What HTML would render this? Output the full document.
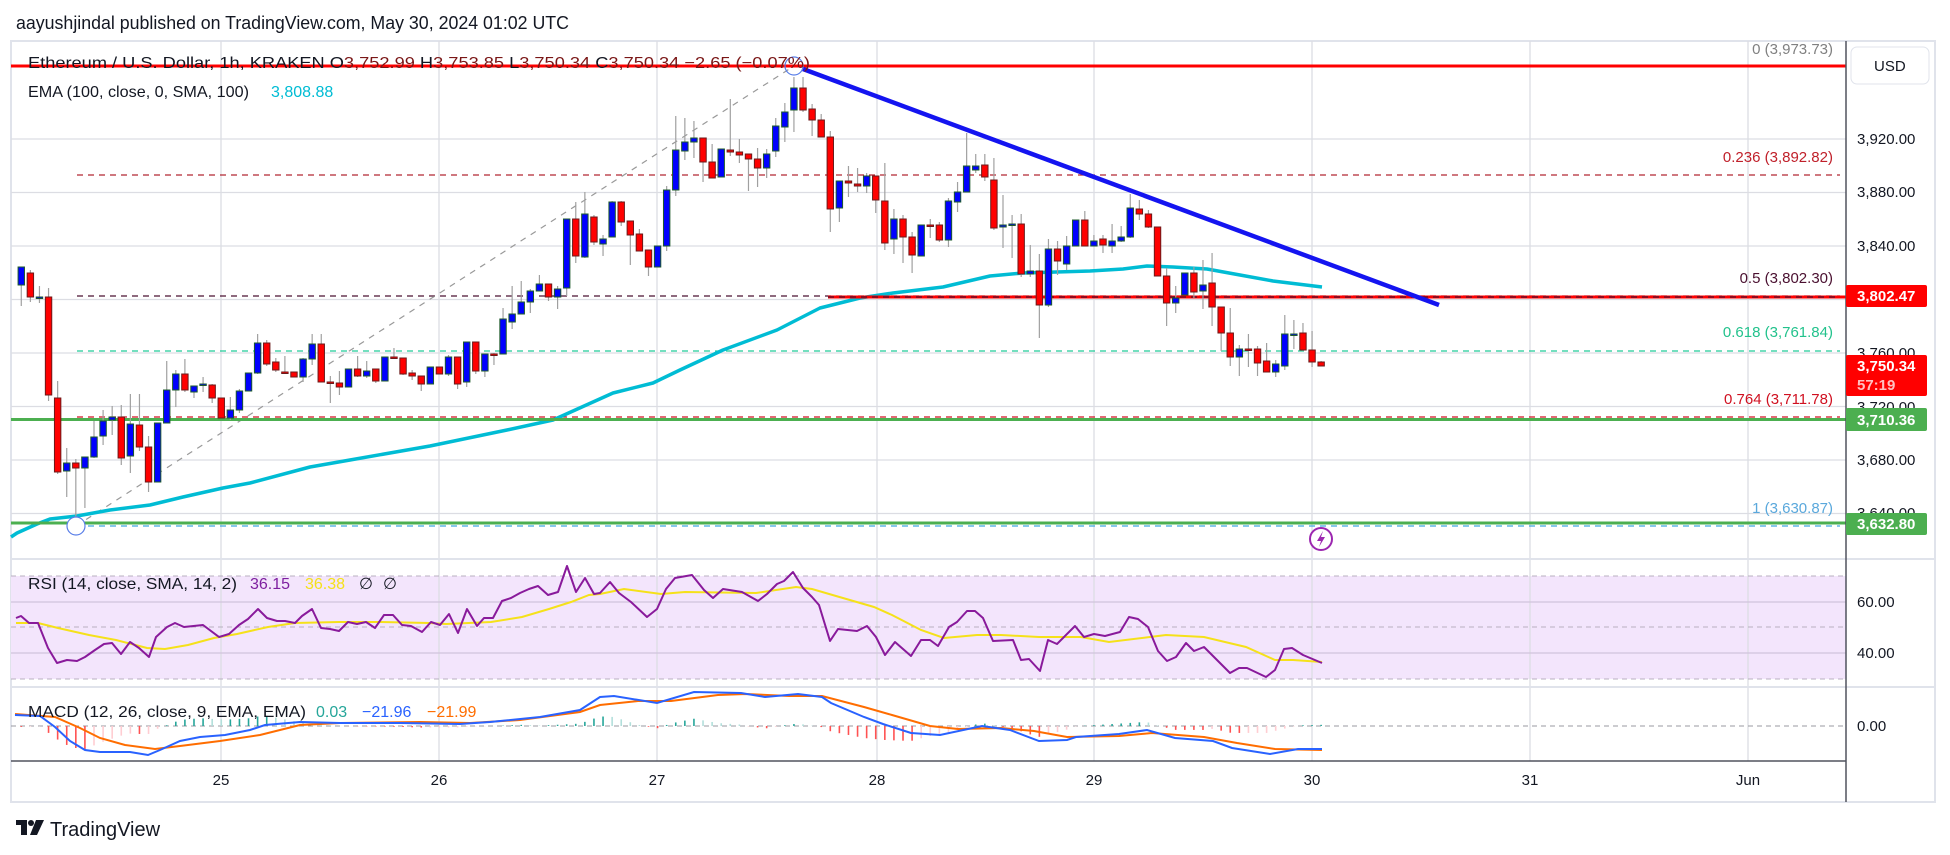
<!DOCTYPE html>
<html><head><meta charset="utf-8">
<style>
html,body{margin:0;padding:0;background:#fff;}
svg{display:block;font-family:"Liberation Sans",sans-serif;}
</style></head>
<body>
<svg id="s" width="1950" height="855" viewBox="0 0 1950 855" xmlns="http://www.w3.org/2000/svg">
<rect x="0" y="0" width="1950" height="855" fill="#fff"/>
<text x="16" y="29" font-size="18" fill="#131722" textLength="553" lengthAdjust="spacingAndGlyphs">aayushjindal published on TradingView.com, May 30, 2024 01:02 UTC</text>
<rect x="11" y="41" width="1924" height="761" fill="#fff" stroke="#e0e3eb" stroke-width="2"/>
<!-- RSI band -->
<rect x="11" y="576" width="1835" height="103" fill="#f3e5fc"/>
<g id="grid"></g>
<g id="main"></g>
<!-- pane separators -->
<line x1="11" y1="559" x2="1935" y2="559" stroke="#e0e3eb" stroke-width="2"/>
<line x1="11" y1="687" x2="1935" y2="687" stroke="#e0e3eb" stroke-width="2"/>
<line x1="11" y1="761" x2="1846" y2="761" stroke="#50535e" stroke-width="1.5"/>
<line x1="1846" y1="41" x2="1846" y2="802" stroke="#50535e" stroke-width="1.5"/>
<!-- USD box -->
<rect x="1851" y="47" width="78" height="37" rx="6" fill="#fff" stroke="#e0e3eb"/>
<text x="1874" y="71" font-size="15" fill="#131722">USD</text>
<!-- price axis labels -->
<g font-size="15" fill="#131722">
<text x="1857" y="144">3,920.00</text>
<text x="1857" y="197">3,880.00</text>
<text x="1857" y="251">3,840.00</text>
<text x="1857" y="358">3,760.00</text>
<text x="1857" y="412">3,720.00</text>
<text x="1857" y="465">3,680.00</text>
<text x="1857" y="518">3,640.00</text>
<text x="1857" y="607">60.00</text>
<text x="1857" y="658">40.00</text>
<text x="1857" y="731">0.00</text>
</g>
<rect x="1846" y="285" width="81" height="22" rx="2" fill="#ff0000"/>
<text x="1857" y="301" font-size="15" fill="#fff" font-weight="bold">3,802.47</text>
<rect x="1846" y="355" width="81" height="41" rx="2" fill="#ff0000"/>
<text x="1857" y="371" font-size="15" fill="#fff" font-weight="bold">3,750.34</text>
<text x="1857" y="390" font-size="15" fill="#ffc0c0" font-weight="bold">57:19</text>
<rect x="1846" y="408" width="81" height="23" rx="2" fill="#4caf50"/>
<text x="1857" y="425" font-size="15" fill="#fff" font-weight="bold">3,710.36</text>
<rect x="1846" y="513" width="81" height="22" rx="2" fill="#4caf50"/>
<text x="1857" y="529" font-size="15" fill="#fff" font-weight="bold">3,632.80</text>
<!-- time axis -->
<g font-size="15" fill="#131722" text-anchor="middle">
<text x="221" y="785">25</text><text x="439" y="785">26</text><text x="657" y="785">27</text>
<text x="877" y="785">28</text><text x="1094" y="785">29</text><text x="1312" y="785">30</text>
<text x="1530" y="785">31</text><text x="1748" y="785">Jun</text>
</g>
<!-- fib labels -->
<g font-size="15" text-anchor="end">
<text x="1833" y="54" fill="#808080">0 (3,973.73)</text>
<text x="1833" y="162" fill="#c0202a">0.236 (3,892.82)</text>
<text x="1833" y="283" fill="#4a1030">0.5 (3,802.30)</text>
<text x="1833" y="337" fill="#22c28c">0.618 (3,761.84)</text>
<text x="1833" y="404" fill="#d01020">0.764 (3,711.78)</text>
<text x="1833" y="513" fill="#5aa8dc">1 (3,630.87)</text>
</g>
<!-- legends -->
<text x="28" y="68" font-size="16" textLength="782" lengthAdjust="spacingAndGlyphs"><tspan fill="#131722">Ethereum / U.S. Dollar, 1h, KRAKEN </tspan><tspan fill="#131722">O</tspan><tspan fill="#7a1616">3,752.99 </tspan><tspan fill="#131722">H</tspan><tspan fill="#7a1616">3,753.85 </tspan><tspan fill="#131722">L</tspan><tspan fill="#7a1616">3,750.34 </tspan><tspan fill="#131722">C</tspan><tspan fill="#7a1616">3,750.34 −2.65 (−0.07%)</tspan></text>
<text x="28" y="97" font-size="16" fill="#131722" textLength="221" lengthAdjust="spacingAndGlyphs">EMA (100, close, 0, SMA, 100)</text>
<text x="271" y="97" font-size="16" fill="#00bcd4">3,808.88</text>
<text x="28" y="589" font-size="16" fill="#131722" textLength="209" lengthAdjust="spacingAndGlyphs">RSI (14, close, SMA, 14, 2)</text>
<text x="250" y="589" font-size="16" fill="#7e1fa0">36.15</text>
<text x="305" y="589" font-size="16" fill="#f5e11a">36.38</text>
<text x="359" y="589" font-size="16" fill="#131722">∅</text>
<text x="383" y="589" font-size="16" fill="#131722">∅</text>
<text x="28" y="717" font-size="16" fill="#131722" textLength="278" lengthAdjust="spacingAndGlyphs">MACD (12, 26, close, 9, EMA, EMA)</text>
<text x="316" y="717" font-size="16" fill="#26a69a">0.03</text>
<text x="362" y="717" font-size="16" fill="#2962ff">−21.96</text>
<text x="427" y="717" font-size="16" fill="#ff6d00">−21.99</text>
<!-- lightning -->
<circle cx="1321" cy="539" r="11" fill="#fff" stroke="#9c27b0" stroke-width="2"/>
<path d="M1323 531 L1317 541 L1321 541 L1319 547 L1325 537 L1321 537 Z" fill="#9c27b0"/>
<!-- logo -->
<g fill="#131722"><rect x="16" y="820" width="11" height="5"/><rect x="21" y="820" width="6" height="15"/><circle cx="31" cy="823" r="3"/><path d="M36 820 L44 820 L37 835 L30 835 Z"/></g>
<text x="50" y="836" font-size="20" fill="#131722">TradingView</text>
</svg>
<script>
const NS="http://www.w3.org/2000/svg";
const grid=document.getElementById('grid'), main=document.getElementById('main');
function el(p,t,a){const e=document.createElementNS(NS,t);for(const k in a)e.setAttribute(k,a[k]);p.appendChild(e);return e;}
// grid
[221,439,657,877,1094,1312,1530,1748].forEach(x=>el(grid,'line',{x1:x,y1:41,x2:x,y2:761,stroke:'#dcdde3','stroke-width':1.3}));
[139,192.5,246,299.5,353,406.5,460,513.5].forEach(y=>el(grid,'line',{x1:11,y1:y,x2:1846,y2:y,stroke:'#dcdde3','stroke-width':1.3}));
[602,653].forEach(y=>el(grid,'line',{x1:11,y1:y,x2:1846,y2:y,stroke:'#d0c3dc','stroke-width':1.3}));
[576,627,679].forEach(y=>el(grid,'line',{x1:11,y1:y,x2:1846,y2:y,stroke:'#b8b0c0','stroke-width':1,'stroke-dasharray':'5 4'}));
el(grid,'line',{x1:11,y1:726,x2:1846,y2:726,stroke:'#9a9aa0','stroke-width':1,'stroke-dasharray':'5 4'});
const g=main;
// fib dashed lines
el(g,'line',{x1:77,y1:66,x2:1840,y2:66,stroke:'#999','stroke-width':1,'stroke-dasharray':'6 4'});
el(g,'line',{x1:77,y1:175,x2:1840,y2:175,stroke:'#b22833','stroke-width':1.3,'stroke-dasharray':'6 5'});
el(g,'line',{x1:77,y1:296,x2:1840,y2:296,stroke:'#4a1030','stroke-width':1.3,'stroke-dasharray':'6 5'});
el(g,'line',{x1:77,y1:351,x2:1840,y2:351,stroke:'#22cc99','stroke-width':1.3,'stroke-dasharray':'6 5'});
el(g,'line',{x1:77,y1:417,x2:1840,y2:417,stroke:'#d01020','stroke-width':1.3,'stroke-dasharray':'6 5'});
el(g,'line',{x1:77,y1:526,x2:1840,y2:526,stroke:'#40a8e0','stroke-width':1.3,'stroke-dasharray':'6 5'});
el(g,'line',{x1:76,y1:526,x2:794,y2:66,stroke:'#999','stroke-width':1.2,'stroke-dasharray':'6 6'});
// EMA
const ema=[[11,537],[17,533],[37,524],[50,519],[77,516],[110,510],[150,505],[183,497],[223,488],[250,483],[310,467],[350,460],[430,446],[507,430],[553,420],[613,393],[653,383],[680,370],[723,350],[777,330],[820,308],[860,298],[893,293],[943,287],[990,276],[1023,273],[1090,271],[1123,269],[1147,266],[1173,267],[1207,269],[1240,275],[1273,281],[1322,287]];
el(g,'polyline',{points:ema.map(p=>p.join(',')).join(' '),fill:'none',stroke:'#00bcd4','stroke-width':3.5,'stroke-linejoin':'round'});
// horizontal lines
el(g,'line',{x1:11,y1:66,x2:1846,y2:66,stroke:'#ff0000','stroke-width':3});
el(g,'line',{x1:828,y1:297,x2:1846,y2:297,stroke:'#ff0000','stroke-width':3});
el(g,'line',{x1:828,y1:297,x2:1840,y2:297,stroke:'#4a1030','stroke-width':1.3,'stroke-dasharray':'6 5'});
el(g,'line',{x1:11,y1:419.5,x2:1846,y2:419.5,stroke:'#4caf50','stroke-width':3});
el(g,'line',{x1:11,y1:523,x2:1846,y2:523,stroke:'#4caf50','stroke-width':3});
// candles
const C=[[2,1,267,285,267,306],[3,0,273,297,270,302],[4,1,297,298,286,303],[5,0,297,395,288,401],[6,0,398,472,381,474],[7,1,463,471,448,497],[8,0,463,468,459,517],[9,1,457,468,457,508],[10,1,437,457,421,458],[11,1,421,436,410,445],[12,1,417,420,406,435],[13,0,417,458,405,465],[14,1,424,456,394,473],[15,0,425,447,394,451],[16,0,447,482,436,492],[17,1,423,482,423,482],[18,1,390,423,361,423],[19,1,374,390,370,407],[20,0,374,390,359,392],[21,1,386,392,386,398],[22,1,384,385,377,392],[23,0,385,398,384,403],[24,0,398,418,398,418],[25,1,410,418,397,420],[26,1,391,410,389,413],[27,1,373,391,373,391],[28,1,343,373,334,374],[29,0,343,364,340,366],[30,0,362,370,358,372],[31,0,372,373,356,373],[32,0,372,377,372,377],[33,1,359,377,358,382],[34,1,344,359,334,365],[35,0,344,382,334,382],[36,0,382,383,376,403],[37,0,383,387,371,395],[38,1,369,387,369,387],[39,0,369,376,356,377],[40,1,371,376,361,378],[41,0,369,381,369,383],[42,1,357,381,357,381],[43,0,357,358,348,358],[44,0,358,374,358,375],[45,0,373,376,370,380],[46,0,376,384,376,391],[47,1,367,384,367,384],[48,0,367,374,367,374],[49,1,357,374,355,376],[50,0,357,384,357,389],[51,1,342,382,342,387],[52,0,342,371,342,374],[53,1,354,371,354,377],[54,0,354,355,353,365],[55,1,319,354,308,354],[56,1,314,322,286,329],[57,1,302,314,281,314],[58,1,291,302,289,313],[59,1,284,291,275,291],[60,0,284,297,284,301],[61,1,289,297,286,309],[62,1,219,288,219,296],[63,0,219,256,202,263],[64,1,214,257,192,258],[65,0,217,242,215,245],[66,1,239,244,235,256],[67,1,202,237,201,237],[68,0,202,222,201,226],[69,0,221,235,221,265],[70,0,234,251,229,251],[71,0,250,267,250,276],[72,1,246,267,246,267],[73,1,190,246,186,251],[74,1,150,190,116,196],[75,1,142,151,118,160],[76,1,138,142,121,158],[77,0,138,162,138,182],[78,0,162,178,144,178],[79,1,149,177,149,177],[80,0,150,152,99,156],[81,0,152,155,139,163],[82,0,154,159,154,191],[83,0,159,168,148,187],[84,1,154,168,149,178],[85,1,126,151,118,157],[86,1,112,127,103,142],[87,1,88,110,77,132],[88,0,88,110,77,112],[89,0,109,120,104,136],[90,0,120,137,114,137],[91,0,137,209,131,232],[92,1,181,208,181,222],[93,0,181,183,166,197],[94,0,184,186,168,192],[95,1,176,186,173,193],[96,0,176,200,176,213],[97,0,201,243,163,250],[98,1,219,239,209,254],[99,0,219,237,215,263],[100,0,237,255,232,273],[101,1,225,256,225,256],[102,0,225,226,219,238],[103,0,225,240,222,242],[104,1,201,240,198,247],[105,1,192,202,182,212],[106,1,166,192,133,192],[107,1,166,170,154,173],[108,0,165,177,154,181],[109,0,180,228,158,230],[110,1,225,227,195,248],[111,1,224,225,215,258],[112,0,224,274,214,277],[113,1,271,274,245,277],[114,0,271,305,254,338],[115,1,249,305,239,307],[116,0,249,261,241,275],[117,1,246,264,236,270],[118,1,220,246,220,246],[119,0,220,246,211,246],[120,1,241,246,235,246],[121,0,239,245,235,253],[122,1,241,246,224,253],[123,1,237,241,226,242],[124,1,208,237,194,238],[125,0,209,214,200,220],[126,0,214,227,210,228],[127,0,227,276,227,276],[128,0,276,303,268,326],[129,1,298,303,286,313],[130,1,273,295,273,295],[131,0,273,292,267,298],[132,1,285,291,260,309],[133,0,283,307,253,326],[134,0,307,333,307,351],[135,0,333,357,308,366],[136,1,349,357,345,376],[137,0,349,350,334,367],[138,0,349,363,346,376],[139,0,361,372,343,372],[140,1,364,372,360,377],[141,1,334,366,315,370],[142,1,334,335,320,349],[143,0,333,350,323,351],[144,0,350,362,331,367],[145,0,362,366,361,366]];
C.forEach(c=>{const x=3.1+c[0]*9.09;
 el(g,'line',{x1:x,y1:c[4],x2:x,y2:c[5],stroke:'#a0a0a0','stroke-width':1.2});
 const h=Math.max(c[3]-c[2],1.5);
 el(g,'rect',{x:x-3.2,y:c[2],width:6.4,height:h,fill:c[1]?'#0000ff':'#ff0000',stroke:c[1]?'#1e5b2a':'#6b1a1a','stroke-width':1});
});
// trendline
el(g,'line',{x1:803,y1:69,x2:1439,y2:305,stroke:'#1414f0','stroke-width':4.5});
el(g,'circle',{cx:76,cy:526,r:9,fill:'#fff',stroke:'#5a7fe8','stroke-width':1.2});
el(g,'circle',{cx:794,cy:66,r:9,fill:'none',stroke:'#5a7fe8','stroke-width':1.2});
// RSI
const rsi=[[16,618],[21,616],[29,623],[38,623],[48,648],[57,663],[67,660],[77,661],[85,657],[95,650],[104,644],[112,643],[121,654],[130,642],[139,648],[149,657],[156,637],[167,627],[175,623],[184,627],[203,625],[219,637],[229,634],[239,625],[248,619],[258,609],[267,618],[277,621],[285,621],[295,623],[302,616],[312,609],[321,628],[330,629],[339,631],[348,622],[357,624],[366,622],[375,628],[384,615],[393,615],[402,625],[411,626],[422,632],[431,622],[440,625],[449,614],[458,633],[467,609],[477,626],[484,618],[493,618],[502,601],[511,598],[520,593],[529,589],[538,586],[548,595],[558,592],[567,566],[576,592],[585,578],[594,594],[600,593],[610,582],[619,593],[631,602],[647,617],[657,609],[666,589],[675,578],[692,575],[704,590],[713,598],[723,589],[742,592],[758,601],[767,594],[777,584],[784,581],[793,572],[803,588],[812,597],[819,605],[830,641],[838,629],[857,631],[867,626],[876,637],[885,655],[895,642],[911,656],[921,640],[930,640],[938,646],[949,627],[957,622],[967,611],[975,611],[983,618],[993,641],[1013,640],[1021,660],[1029,659],[1040,671],[1048,640],[1057,644],[1075,626],[1084,637],[1094,634],[1105,636],[1120,632],[1129,617],[1138,619],[1148,627],[1158,651],[1167,661],[1176,657],[1186,643],[1194,651],[1204,647],[1230,673],[1239,668],[1247,668],[1266,677],[1275,670],[1284,649],[1292,648],[1303,655],[1322,663]];
const rma=[[16,623],[38,623],[58,628],[89,635],[116,640],[147,648],[165,649],[188,645],[214,638],[237,634],[268,627],[295,623],[339,622],[379,622],[429,623],[446,624],[491,622],[522,617],[549,609],[571,602],[589,595],[600,594],[624,589],[661,594],[685,592],[756,593],[796,587],[812,589],[836,596],[874,607],[892,615],[921,630],[944,638],[977,635],[1001,635],[1039,637],[1081,637],[1109,642],[1166,635],[1204,637],[1246,647],[1275,660],[1293,660],[1322,662]];
el(g,'polyline',{points:rma.map(p=>p.join(',')).join(' '),fill:'none',stroke:'#f5e11a','stroke-width':2});
el(g,'polyline',{points:rsi.map(p=>p.join(',')).join(' '),fill:'none',stroke:'#891a9b','stroke-width':2,'stroke-linejoin':'round'});
// MACD
const mb=[[15,715],[40,716],[55,727],[70,741],[85,750],[100,752],[130,752],[148,755],[160,750],[180,741],[200,737],[225,735],[250,730],[265,725],[300,722],[340,723],[400,723],[460,724],[490,722],[540,717],[580,710],[600,697],[614,696],[657,703],[694,692],[741,693],[765,697],[798,694],[822,697],[831,703],[864,717],[883,724],[911,733],[940,735],[982,726],[1010,730],[1039,741],[1067,740],[1076,737],[1119,734],[1147,730],[1175,738],[1213,741],[1232,748],[1270,754],[1298,749],[1322,749]];
const mo=[[15,714],[55,717],[80,728],[100,738],[125,745],[155,749],[180,746],[220,741],[260,735],[300,725],[340,723],[420,722],[470,723],[520,720],[580,712],[600,705],[638,701],[671,701],[718,695],[746,694],[789,696],[822,696],[864,707],[892,715],[930,726],[958,729],[1001,728],[1034,731],[1067,737],[1119,736],[1152,733],[1204,737],[1237,743],[1275,749],[1322,750]];
function interp(a,x){for(let i=1;i<a.length;i++){if(x<=a[i][0]){const t=(x-a[i-1][0])/(a[i][0]-a[i-1][0]);return a[i-1][1]+t*(a[i][1]-a[i-1][1]);}}return a[a.length-1][1];}
let prev=0;
for(let i=2;i<=145;i++){const x=3.1+i*9.09;const h=(interp(mo,x)-interp(mb,x))*1.2;
 const col=h>=0?(h>=prev?'#26a69a':'#b2dfdb'):(h<prev?'#ff5252':'#ffcdd2');prev=h;
 el(g,'line',{x1:x,y1:726,x2:x,y2:726-h,stroke:col,'stroke-width':1.6});}
el(g,'polyline',{points:mo.map(p=>p.join(',')).join(' '),fill:'none',stroke:'#ff6d00','stroke-width':2});
el(g,'polyline',{points:mb.map(p=>p.join(',')).join(' '),fill:'none',stroke:'#2962ff','stroke-width':2});
</script>
</body></html>
